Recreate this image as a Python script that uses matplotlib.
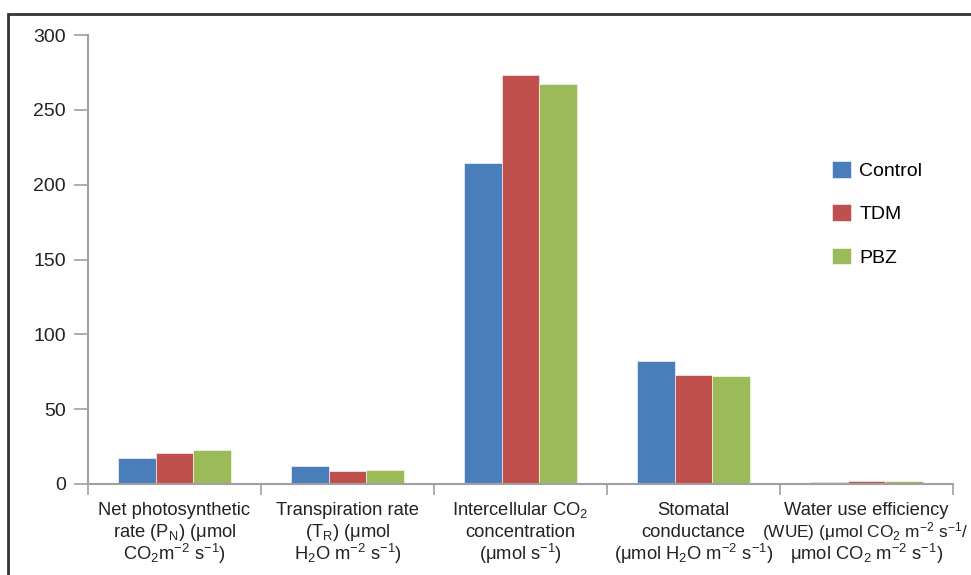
import numpy as np
import matplotlib
matplotlib.use("Agg")
import matplotlib.pyplot as plt
from matplotlib.patches import Rectangle

plt.rcParams['font.family'] = ['Liberation Sans', 'DejaVu Sans']
plt.rcParams['mathtext.default'] = 'regular'

# category labels, one list of lines per group
categories = [
    ["Net photosynthetic", "rate (P$_N$) (μmol", "CO$_2$m$^{−2}$ s$^{−1}$)"],
    ["Transpiration rate", "(T$_R$) (μmol", "H$_2$O m$^{−2}$ s$^{−1}$)"],
    ["Intercellular CO$_2$", "concentration", "(μmol s$^{−1}$)"],
    ["Stomatal", "conductance", "(μmol H$_2$O m$^{−2}$ s$^{−1}$)"],
    ["Water use efficiency", "(WUE) (μmol CO$_2$ m$^{−2}$ s$^{−1}$/", "μmol CO$_2$ m$^{−2}$ s$^{−1}$)"],
]
series_names = ["Control", "TDM", "PBZ"]
control = [17.4, 12.2, 214.2, 82.2, 1.3]
tdm = [20.5, 8.9, 273.2, 72.8, 1.8]
pbz = [22.7, 9.4, 267.2, 71.9, 1.7]
colors = ["#4A7EBB", "#C0504D", "#9BBB59"]
yticks = [0, 50, 100, 150, 200, 250, 300]

fs = 14
lfs = 13.2
fig = plt.figure(figsize=(9.71, 5.75), dpi=100)
ax = fig.add_axes([0.0906, 0.1583, 0.891, 0.7807])

x = np.arange(len(categories))
w = 0.217
for i, (vals, name) in enumerate(zip([control, tdm, pbz], series_names)):
    ax.bar(x + (i - 1) * w, vals, width=w, color=colors[i], label=name,
           edgecolor='white', linewidth=0.4)

ax.set_xlim(-0.5, len(categories) - 0.5)
ax.set_ylim(0, 300)
ax.set_yticks(yticks)
ax.tick_params(axis='y', length=10, width=1.2, color='#A0A0A0', labelsize=fs,
               labelcolor='#222222', pad=6)

ax.set_xticks(np.arange(-0.5, len(categories)), labels=[''] * (len(categories) + 1))
ax.tick_params(axis='x', which='major', length=8, width=1.2, color='#A0A0A0')

# multi-line category labels, fixed baseline spacing
for i, lines in enumerate(categories):
    for k, line in enumerate(lines):
        size = lfs if len(line) < 34 else 12.4   # longest line squeezed to fit
        ax.annotate(line, xy=(i, 0), xycoords=('data', 'axes fraction'),
                    xytext=(-2 if size < lfs else 0, -31 - k * 22.5),
                    textcoords='offset pixels',
                    ha='center', va='baseline', fontsize=size, color='#222222')

for s in ['top', 'right']:
    ax.spines[s].set_visible(False)
for s in ['left', 'bottom']:
    ax.spines[s].set_color('#A0A0A0')
    ax.spines[s].set_linewidth(1.5)

ax.legend(loc='upper left', bbox_to_anchor=(0.847, 0.737), bbox_transform=fig.transFigure,
          frameon=False, fontsize=fs, handlelength=0.95, handleheight=0.95,
          handletextpad=0.45, labelspacing=1.25, borderpad=0)

# outer frame
fig.patches.append(Rectangle((0.008, -0.1), 1.1, 1.075, transform=fig.transFigure,
                             fill=False, edgecolor='#333333', linewidth=2.0))

fig.savefig("out.png", dpi=100)
